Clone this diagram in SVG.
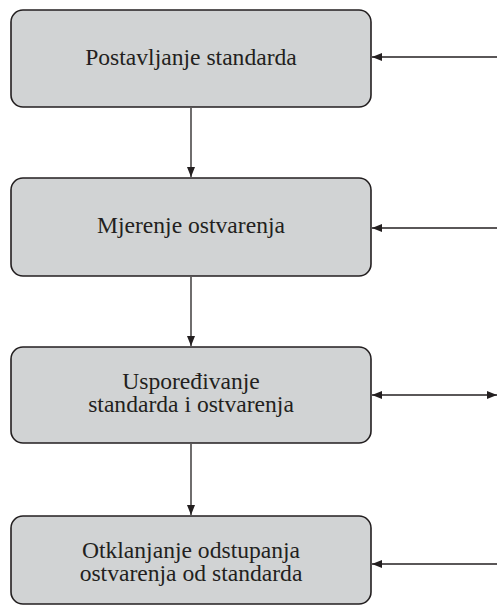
<svg xmlns="http://www.w3.org/2000/svg" width="497" height="607" viewBox="0 0 497 607">
<defs>
<style>
.box{fill:#d1d3d4;stroke:#231f20;stroke-width:1.6}
.lbl{font-family:"Liberation Serif","Times New Roman",serif;font-size:23.6px;fill:#231f20;text-anchor:middle}
.con{stroke:#231f20;stroke-width:1.3;fill:none}
</style>
<marker id="ah" viewBox="0 0 10 8" refX="10" refY="4" markerWidth="10" markerHeight="8" markerUnits="userSpaceOnUse" orient="auto-start-reverse">
<path d="M0,0 L10,4 L0,8 Z" fill="#231f20"/>
</marker>
</defs>
<rect width="497" height="607" fill="#ffffff"/>
<g id="connectors">
<line class="con" x1="191" y1="108" x2="191" y2="177" marker-end="url(#ah)"/>
<line class="con" x1="191" y1="277" x2="191" y2="346" marker-end="url(#ah)"/>
<line class="con" x1="191" y1="444" x2="191" y2="515" marker-end="url(#ah)"/>
<line class="con" x1="497" y1="57" x2="372" y2="57" marker-end="url(#ah)"/>
<line class="con" x1="497" y1="228" x2="372" y2="228" marker-end="url(#ah)"/>
<line class="con" x1="372" y1="395" x2="497" y2="395" marker-start="url(#ah)" marker-end="url(#ah)"/>
<line class="con" x1="497" y1="564" x2="372" y2="564" marker-end="url(#ah)"/>
</g>
<g id="node1">
<rect class="box" x="11" y="10" width="360" height="97" rx="12"/>
<text class="lbl" x="191" y="65">Postavljanje standarda</text>
</g>
<g id="node2">
<rect class="box" x="11" y="178" width="360" height="98" rx="12"/>
<text class="lbl" x="191" y="233">Mjerenje ostvarenja</text>
</g>
<g id="node3">
<rect class="box" x="11" y="347" width="360" height="96" rx="12"/>
<text class="lbl" x="191" y="389">Uspoređivanje</text>
<text class="lbl" x="191" y="412">standarda i ostvarenja</text>
</g>
<g id="node4">
<rect class="box" x="11" y="516" width="360" height="88" rx="12"/>
<text class="lbl" x="191" y="558">Otklanjanje odstupanja</text>
<text class="lbl" x="191" y="581">ostvarenja od standarda</text>
</g>
</svg>
